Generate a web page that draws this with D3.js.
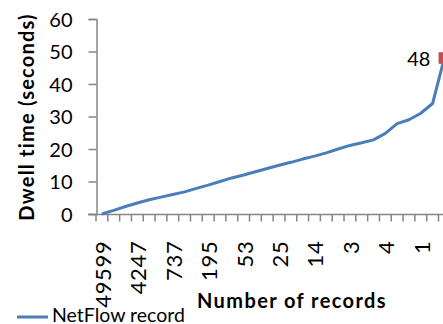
<!DOCTYPE html>
<html>
<head>
<meta charset="utf-8">
<script src="https://cdn.jsdelivr.net/npm/d3@7"></script>
<style>
	body { margin: 0; background: #fff; }
	text { font-family: Lato, "Open Sans", sans-serif; fill: #000; }
</style>
</head>
<body>
<div id="chart"></div>
<script>
// one point per group of records, sorted by record count (descending)
var dwellTimes = [0, 1.1, 2.3, 3.4, 4.4, 5.2, 6.0, 6.8, 7.9, 8.9,
	10.0, 11.1, 12.0, 13.0, 14.0, 15.0, 15.9, 16.9, 17.8, 18.8,
	20.0, 21.1, 21.9, 22.8, 24.8, 27.8, 29.0, 31.0, 34.0, 48];
// only every third category label is printed on the axis
var shownLabels = ["49599", "4247", "737", "195", "53", "25", "14", "3", "4", "1"];
var labelEvery = 3;
var yTicks = [0, 10, 20, 30, 40, 50, 60];
var seriesName = "NetFlow record";
var yTitle = "Dwell time (seconds)",
	xTitle = "Number of records";

var width = 443, height = 324,
	lineColor = "#4a7ebb",
	markerColor = "#c0504d",
	axisColor = "#868686";

function drawChart() {
	var svg = d3.select("#chart").append("svg")
		.attr("width", width)
		.attr("height", height);

	var idx = d3.range(dwellTimes.length);
	// the plot runs past the right edge of the picture, as in the original
	var x = d3.scaleBand().domain(idx).range([96, 96 + 11.81 * idx.length]);
	var y = d3.scaleLinear().domain([0, 60]).range([214, 19]);

	// y axis
	var yAxis = svg.append("g").attr("transform", "translate(96.5,0)")
		.call(d3.axisLeft(y).tickValues(yTicks).tickSize(8).tickPadding(16));
	yAxis.select(".domain").attr("stroke", axisColor).attr("stroke-width", 1.5);
	yAxis.selectAll(".tick line").attr("stroke", axisColor).attr("stroke-width", 1.5);
	yAxis.selectAll(".tick text")
		.style("font-size", "20px")
		.attr("fill", "#000")
		.attr("dy", "0.35em");

	// x axis: ticks between categories
	var xAxisG = svg.append("g").attr("transform", "translate(0,214.5)");
	xAxisG.append("line")
		.attr("x1", 88).attr("x2", width + 20)
		.attr("stroke", axisColor).attr("stroke-width", 1.5);
	xAxisG.selectAll("line.tk")
		.data(d3.range(dwellTimes.length + 1))
		.enter().append("line")
		.attr("class", "tk")
		.attr("x1", function (d) { return x.range()[0] + d * x.step(); })
		.attr("x2", function (d) { return x.range()[0] + d * x.step(); })
		.attr("y1", 0).attr("y2", 7)
		.attr("stroke", axisColor).attr("stroke-width", 1.5);
	xAxisG.selectAll("text.lbl")
		.data(shownLabels)
		.enter().append("text")
		.attr("class", "lbl")
		.attr("transform", function (d, i) {
			var cx = x(i * labelEvery) + x.bandwidth() / 2;
			return "translate(" + (cx + 9) + ",26) rotate(-90)";
		})
		.attr("text-anchor", "end")
		.style("font-size", "22px")
		.style("letter-spacing", "0.7px")
		.text(function (d) { return d; });

	// the series
	var line = d3.line()
		.x(function (d, i) { return x(i) + x.bandwidth() / 2; })
		.y(function (d) { return y(d); });
	svg.append("path")
		.datum(dwellTimes)
		.attr("d", line)
		.attr("fill", "none")
		.attr("stroke", lineColor)
		.attr("stroke-width", 3)
		.attr("stroke-linejoin", "round");

	// marker + data label on the last point
	var last = dwellTimes.length - 1,
		lx = x(last) + x.bandwidth() / 2,
		ly = y(dwellTimes[last]);
	svg.append("rect")
		.attr("x", lx - 5.8).attr("y", ly - 5.8)
		.attr("width", 11.6).attr("height", 11.6)
		.attr("fill", markerColor);
	svg.append("text")
		.attr("x", lx - 14).attr("y", ly + 1)
		.attr("dy", "0.35em")
		.attr("text-anchor", "end")
		.style("font-size", "20px")
		.text(dwellTimes[last]);

	// axis titles
	svg.append("text")
		.attr("transform", "translate(34,117) rotate(-90)")
		.attr("text-anchor", "middle")
		.style("font-size", "20px")
		.style("font-weight", "bold")
		.style("letter-spacing", "1.2px")
		.text(yTitle);
	svg.append("text")
		.attr("x", 292).attr("y", 308)
		.attr("text-anchor", "middle")
		.style("font-size", "20px")
		.style("font-weight", "bold")
		.style("letter-spacing", "1.4px")
		.text(xTitle);

	// legend
	svg.append("line")
		.attr("x1", 17).attr("x2", 48)
		.attr("y1", 317).attr("y2", 317)
		.attr("stroke", lineColor).attr("stroke-width", 3);
	svg.append("text")
		.attr("x", 52).attr("y", 322)
		.style("font-size", "19.5px")
		.text(seriesName);
}

drawChart();
</script>
</body>
</html>
